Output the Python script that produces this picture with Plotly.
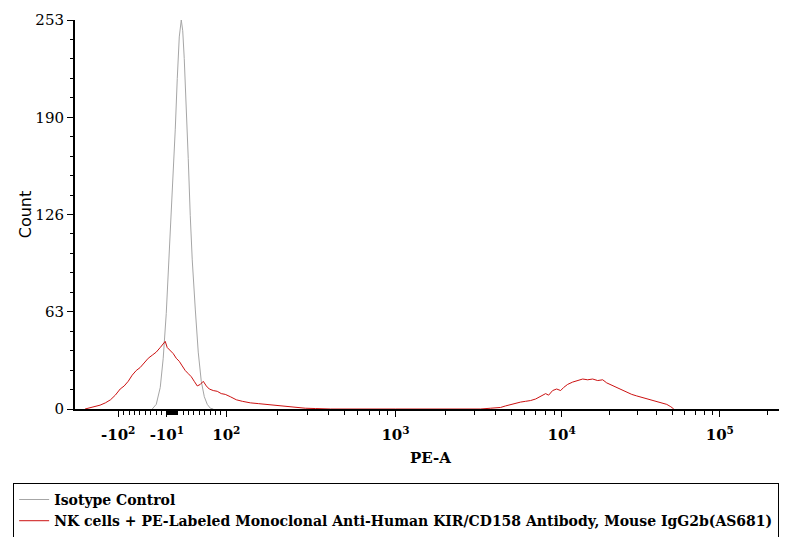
import numpy as np
import plotly.graph_objects as go

# ---------------- data (PE-A values, counts) ----------------
iso_x = [-37.0, -29.6, -22.2, -16.7, -11.1, -5.6, 0.0, 5.6, 9.3, 13.0, 16.7, 19.4,
         22.2, 25.9, 29.6, 33.3, 37.0, 42.6, 48.1, 53.7, 59.3, 64.8, 70.4, 75.9]
iso_y = [0, 3, 14, 33, 62, 100, 140, 182, 215, 242, 253, 246,
         228, 200, 163, 126, 97, 65, 37, 18, 8, 3, 0.5, 0]

nk_x = [-157, -146, -137, -128, -119, -111, -104, -96.3, -88.9, -81.5, -74.1, -66.7,
        -59.3, -51.9, -44.4, -37.0, -29.6, -22.2, -16.7, -13.0, -9.3, -3.7, 1.9, 7.4,
        13.0, 18.5, 24.1, 29.6, 35.2, 40.7, 46.3, 51.9, 57.4, 63.0, 68.5, 75.9, 83.3,
        90.7, 98.1, 105.6, 114.6, 124.4, 138.7, 154.6, 172.5, 195.0, 223.5, 256.0,
        293.5, 336.2, 412.5, 1000, 3251, 3736, 4291, 4600, 4931, 5284, 5662, 6069,
        6506, 6972, 7472, 8010, 8350, 8828, 9331, 9862, 10295, 10914, 11739, 12627,
        13584, 14606, 15711, 16899, 18179, 19267, 20724, 22290, 23975, 25790, 27733,
        29835, 32090, 34514, 37117, 39931, 42945, 46196, 48970, 51160]
nk_y = [0, 1, 1.5, 2.5, 4, 6, 9, 13, 15, 18, 22, 25,
        27, 30, 33, 35, 37, 40, 42, 44, 40, 38, 36, 33,
        31, 28, 25, 23, 21, 18, 15, 16, 18, 15, 13, 12, 11.5,
        10, 9.5, 8, 6, 5, 4, 3.5, 3, 2.5, 1.5, 1,
        0.5, 0.3, 0, 0, 0, 0.5, 1, 2, 3, 4, 4.5, 5,
        5.5, 6.5, 8, 10, 9, 12, 13, 12, 14, 16, 17.5, 18.5,
        19.5, 19, 19.5, 18.5, 19, 17, 15.5, 14, 12, 10.5, 9.5,
        8.5, 7.5, 6.5, 5.5, 4.5, 4, 3, 1.5, 0]

series_names = ["Isotype Control",
                "NK cells + PE-Labeled Monoclonal Anti-Human KIR/CD158 Antibody, Mouse IgG2b(AS681)"]

x_major_vals = [-100, -10, 100, 1000, 10000, 100000]
x_major_text = ["-10<sup>2</sup>", "-10<sup>1</sup>", "10<sup>2</sup>",
                "10<sup>3</sup>", "10<sup>4</sup>", "10<sup>5</sup>"]
x_minor_vals = ([-90, -80, -70, -60, -50, -40, -30, -20] + list(range(-9, 10)) +
                [20, 30, 40, 50, 60, 70, 80, 90] +
                [200, 300, 400, 500, 600, 700, 800, 900] +
                [2000, 3000, 4000, 5000, 6000, 7000, 8000, 9000] +
                [20000, 30000, 40000, 50000, 60000, 70000, 80000, 90000, 200000])
x_limits = [-180, 262144]

y_major_vals = [0, 63.25, 126.5, 189.75, 253]
y_major_text = ["0", "63", "126", "190", "253"]


# ---------------- biexponential-like display scale ----------------
def biex(v):
    v = np.asarray(v, dtype=float)
    a = np.abs(v)
    lin = 0.54 * v
    la = np.log10(np.maximum(a, 1e-9))
    pos = 54 + np.interp(la, [2, 3, 4, 5], [0, 169, 335, 493])
    pos = np.where(la > 5, 54 + 493 + (la - 5) * 158, pos)
    neg = -(54 + 169 * (la - 2))
    return np.where(a <= 100, lin, np.where(v > 0, pos, neg))


fig = go.Figure()
fig.add_trace(go.Scatter(x=biex(iso_x), y=iso_y, mode="lines", name=series_names[0],
                         line=dict(color="#a6a6a6", width=1)))
fig.add_trace(go.Scatter(x=biex(nk_x), y=nk_y, mode="lines", name=series_names[1],
                         line=dict(color="#cc1111", width=1)))

# page body has an 8px margin, so the figure is sized to fit inside the window
fig.update_layout(
    width=779, height=529,
    margin=dict(l=67, r=1, t=12, b=128, autoexpand=False),
    paper_bgcolor="white", plot_bgcolor="white",
    showlegend=True,
    legend=dict(x=-0.087, y=-0.19, xanchor="left", yanchor="top",
                bordercolor="black", borderwidth=1, bgcolor="white",
                font=dict(family="DejaVu Serif", size=14, color="black", weight="bold"),
                tracegroupgap=0, itemwidth=30),
    font=dict(family="DejaVu Serif", color="black"),
)

fig.update_xaxes(
    range=list(biex(x_limits)), showgrid=False, zeroline=False,
    showline=True, linecolor="black", linewidth=2,
    tickmode="array", tickvals=list(biex(x_major_vals)),
    ticktext=["<b>%s</b>" % t for t in x_major_text],
    ticks="outside", ticklen=6, tickwidth=1, tickcolor="black",
    tickfont=dict(family="DejaVu Serif", size=15, color="black"),
    ticklabelstandoff=5,
    minor=dict(tickmode="array", tickvals=list(biex(x_minor_vals)), ticks="outside",
               ticklen=4, tickwidth=1, tickcolor="black"),
    title=dict(text="<b>PE-A</b>", font=dict(family="DejaVu Serif", size=15, color="black"),
               standoff=9),
)

fig.update_yaxes(
    range=[0, 253], showgrid=False, zeroline=False,
    showline=True, linecolor="black", linewidth=2,
    tickmode="array", tickvals=y_major_vals, ticktext=y_major_text,
    ticks="outside", ticklen=6, tickwidth=1, tickcolor="black",
    tickfont=dict(family="DejaVu Serif", size=15, color="black"),
    minor=dict(tickmode="linear", tick0=0, dtick=253 / 20, ticks="outside",
               ticklen=3, tickwidth=1, tickcolor="black"),
    title=dict(text="Count", font=dict(family="DejaVu Sans", size=16, color="black"),
               standoff=0),
)

fig.write_html("out.html")
